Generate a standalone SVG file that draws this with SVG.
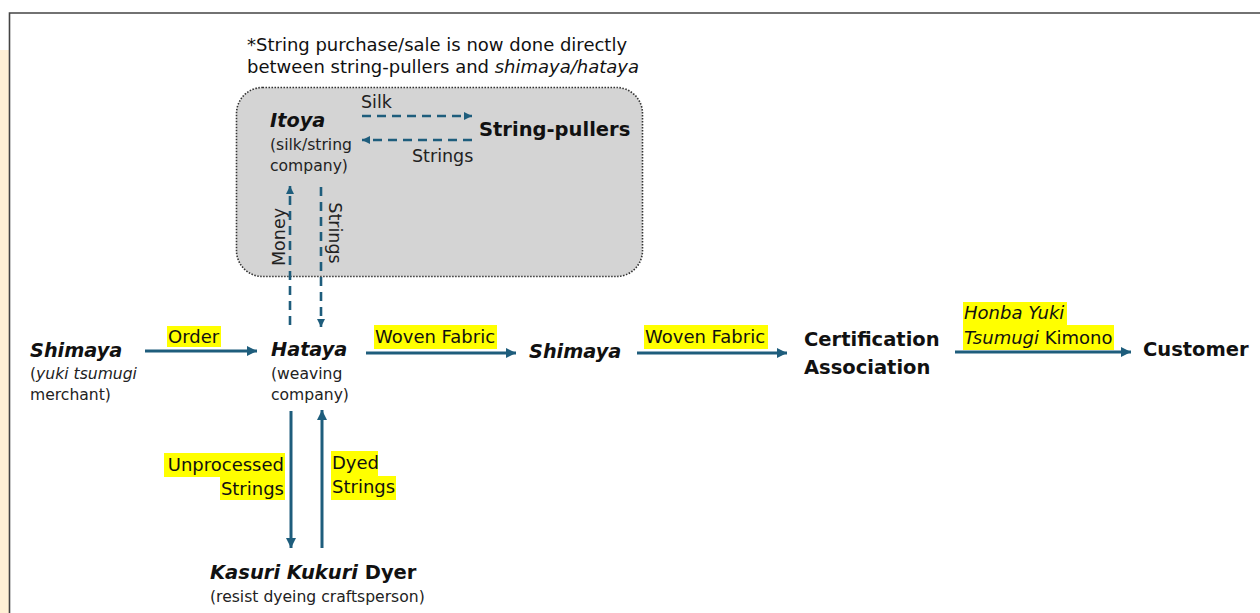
<svg xmlns="http://www.w3.org/2000/svg" width="1260" height="613" viewBox="0 0 1260 613">
<style>
text { font-family: "DejaVu Sans", "Liberation Sans", sans-serif; fill: #111; }
.t { font-size: 18px; }
.s { font-size: 15.6px; fill: #222; }
.m { font-size: 17.5px; fill: #222; }
.b { font-size: 19.5px; font-weight: bold; }
.bi { font-size: 19.3px; font-weight: bold; font-style: italic; }
.lab { font-size: 18px; }
.hl { fill: #FFFF00; }
.solid { stroke: #1E5D7C; stroke-width: 3; fill: none; }
.dash { stroke: #1E5D7C; stroke-width: 2.6; fill: none; stroke-dasharray: 9 6; }
</style>
<defs>
<marker id="ah" viewBox="0 0 10 10" refX="10" refY="5" markerWidth="10" markerHeight="10" markerUnits="userSpaceOnUse" orient="auto">
<path d="M0,0 L10,5 L0,10 z" fill="#1E5D7C"/>
</marker>
<marker id="ahs" viewBox="0 0 10 10" refX="10" refY="5" markerWidth="8" markerHeight="8" markerUnits="userSpaceOnUse" orient="auto">
<path d="M0,0 L10,5 L0,10 z" fill="#1E5D7C"/>
</marker>
</defs>
<rect x="0" y="0" width="1260" height="613" fill="#fff"/>
<rect x="0" y="50" width="9" height="563" fill="#FFF0D5"/>
<path d="M9.5,613 V13 H1260" stroke="#444" stroke-width="1.6" fill="none"/>

<g id="note">
<text class="t" x="247" y="51">*String purchase/sale is now done directly</text>
<text class="t" x="247" y="73">between string-pullers and <tspan font-style="italic">shimaya/hataya</tspan></text>
</g>

<g id="itoya-group">
<rect x="236.5" y="87.5" width="406" height="189" rx="26" fill="#D4D4D4" stroke="#333" stroke-width="1.6" stroke-dasharray="1.5 1.5"/>
</g>

<g id="itoya">
<text class="bi" x="270" y="127">Itoya</text>
<text class="s" x="270" y="150">(silk/string</text>
<text class="s" x="270" y="171">company)</text>
</g>

<g id="string-pullers">
<text class="b" x="479" y="136" font-size="18.7">String-pullers</text>
</g>

<g id="connectors">
<line class="dash" x1="362" y1="116" x2="472" y2="116" marker-end="url(#ahs)"/>
<line class="dash" x1="472" y1="140" x2="362" y2="140" marker-end="url(#ahs)"/>
<line class="dash" x1="290" y1="325" x2="290" y2="186" marker-end="url(#ahs)"/>
<line class="dash" x1="321" y1="187" x2="321" y2="327" marker-end="url(#ahs)"/>
<line class="solid" x1="145" y1="351" x2="257" y2="351" marker-end="url(#ah)"/>
<line class="solid" x1="366" y1="353" x2="516" y2="353" marker-end="url(#ah)"/>
<line class="solid" x1="637" y1="353" x2="787" y2="353" marker-end="url(#ah)"/>
<line class="solid" x1="955" y1="352" x2="1131" y2="352" marker-end="url(#ah)"/>
<line class="solid" x1="291" y1="411" x2="291" y2="548" marker-end="url(#ah)"/>
<line class="solid" x1="322" y1="548" x2="322" y2="410" marker-end="url(#ah)"/>
</g>

<g id="connector-labels">
<text class="m" x="361" y="108">Silk</text>
<text class="m" x="412" y="162">Strings</text>
<text class="m" transform="translate(285,237) rotate(-90)" text-anchor="middle">Money</text>
<text class="m" transform="translate(329,233) rotate(90)" text-anchor="middle">Strings</text>

<rect class="hl" x="167" y="326" width="54" height="21"/>
<text class="lab" x="168" y="343">Order</text>

<rect class="hl" x="374" y="325" width="123" height="24"/>
<text class="lab" x="375" y="343">Woven Fabric</text>

<rect class="hl" x="644" y="325" width="124" height="24"/>
<text class="lab" x="645" y="343">Woven Fabric</text>

<rect class="hl" x="963" y="302" width="104" height="23"/>
<rect class="hl" x="963" y="325" width="151" height="25"/>
<text class="lab" x="964" y="319" font-style="italic">Honba Yuki</text>
<text class="lab" x="964" y="344"><tspan font-style="italic">Tsumugi</tspan> Kimono</text>

<rect class="hl" x="164" y="453" width="121" height="24"/>
<rect class="hl" x="220" y="477" width="65" height="23"/>
<text class="lab" x="284" y="471" text-anchor="end">Unprocessed</text>
<text class="lab" x="284" y="495" text-anchor="end">Strings</text>

<rect class="hl" x="331" y="451" width="47" height="25"/>
<rect class="hl" x="331" y="476" width="65" height="24"/>
<text class="lab" x="332" y="469">Dyed</text>
<text class="lab" x="332" y="493">Strings</text>
</g>

<g id="shimaya-left">
<text class="bi" x="30" y="357">Shimaya</text>
<text class="s" x="30" y="379">(<tspan font-style="italic">yuki tsumugi</tspan></text>
<text class="s" x="30" y="400">merchant)</text>
</g>

<g id="hataya">
<text class="bi" x="271" y="356">Hataya</text>
<text class="s" x="271" y="379">(weaving</text>
<text class="s" x="271" y="400">company)</text>
</g>

<g id="shimaya-mid">
<text class="bi" x="529" y="358">Shimaya</text>
</g>

<g id="certification">
<text class="b" x="804" y="346">Certification</text>
<text class="b" x="804" y="374">Association</text>
</g>

<g id="customer">
<text class="b" x="1143" y="356">Customer</text>
</g>

<g id="dyer">
<text class="b" x="210" y="579" font-size="17.9"><tspan font-style="italic">Kasuri Kukuri</tspan> Dyer</text>
<text class="s" x="210" y="602" font-size="15.2">(resist dyeing craftsperson)</text>
</g>
</svg>
